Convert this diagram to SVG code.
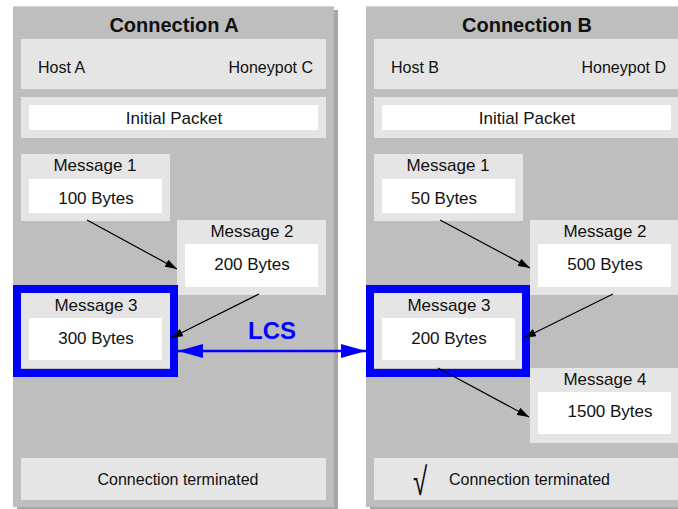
<svg xmlns="http://www.w3.org/2000/svg" width="678" height="509" viewBox="0 0 678 509">
<style>
text{font-family:"Liberation Sans",Arial,sans-serif;fill:#111;}
.panel{fill:#bebebe;}
.shadow{fill:#a6a6a6;}
.topline{fill:#d6d6d6;}
.light{fill:#e5e5e5;}
.white{fill:#ffffff;}
.title{font-size:20px;font-weight:bold;text-anchor:middle;}
.t16{font-size:16px;}
.t17{font-size:17px;text-anchor:middle;}
.mid{text-anchor:middle;}
.frame{fill:none;stroke:#0000ff;stroke-width:8;}
.conn{stroke:#000;stroke-width:1.2;fill:none;marker-end:url(#ah);}
</style>
<defs>
<marker id="ah" viewBox="0 0 12 8" refX="12" refY="4" markerWidth="12" markerHeight="8" markerUnits="userSpaceOnUse" orient="auto">
<path d="M0,0 L12,4 L0,8 Z" fill="#000"/>
</marker>
<marker id="bh" viewBox="0 0 25 14" refX="25" refY="7" markerWidth="25" markerHeight="14" markerUnits="userSpaceOnUse" orient="auto-start-reverse">
<path d="M0,0 L25,7 L0,14 Z" fill="#0000ff"/>
</marker>
</defs>
<rect width="678" height="509" fill="#ffffff"/>

<g id="panelA">
<rect class="shadow" x="17" y="10" width="321" height="501"/>
<rect class="panel" x="13" y="6" width="321" height="501"/>
<rect class="topline" x="13" y="6" width="321" height="1"/>
<text class="title" x="174" y="32">Connection A</text>
</g>
<g id="hostsA">
<rect class="light" x="21" y="39" width="305" height="50"/>
<text class="t16" x="38" y="73">Host A</text>
<text class="t16" x="313" y="73" text-anchor="end">Honeypot C</text>
</g>
<g id="initA">
<rect class="light" x="21" y="97" width="305" height="41"/>
<rect class="white" x="29" y="105" width="289" height="25"/>
<text class="t17" x="174" y="124">Initial Packet</text>
</g>
<g id="msgA1">
<rect class="light" x="21" y="154" width="149" height="67"/>
<rect class="white" x="29" y="179" width="133" height="34"/>
<text class="t17" x="95" y="171">Message 1</text>
<text class="t17" x="96" y="204">100 Bytes</text>
</g>
<g id="msgA2">
<rect class="light" x="177" y="220" width="149" height="75"/>
<rect class="white" x="185" y="244" width="133" height="43"/>
<text class="t17" x="252" y="237">Message 2</text>
<text class="t17" x="252" y="270">200 Bytes</text>
</g>
<g id="msgA3">
<rect class="light" x="21" y="293" width="149" height="75"/>
<rect class="white" x="29" y="318" width="133" height="42"/>
<text class="t17" x="96" y="311">Message 3</text>
<text class="t17" x="96" y="344">300 Bytes</text>
<rect class="frame" x="17" y="289" width="157" height="84"/>
</g>
<g id="endA">
<rect class="light" x="21" y="458" width="305" height="42"/>
<text class="t16 mid" x="178" y="485">Connection terminated</text>
</g>

<g id="panelB">
<rect class="shadow" x="370" y="10" width="321" height="501"/>
<rect class="panel" x="366" y="6" width="321" height="501"/>
<rect class="topline" x="366" y="6" width="321" height="1"/>
<text class="title" x="527" y="32">Connection B</text>
</g>
<g id="hostsB">
<rect class="light" x="374" y="39" width="305" height="50"/>
<text class="t16" x="391" y="73">Host B</text>
<text class="t16" x="666" y="73" text-anchor="end">Honeypot D</text>
</g>
<g id="initB">
<rect class="light" x="374" y="97" width="305" height="41"/>
<rect class="white" x="382" y="105" width="289" height="25"/>
<text class="t17" x="527" y="124">Initial Packet</text>
</g>
<g id="msgB1">
<rect class="light" x="374" y="154" width="149" height="67"/>
<rect class="white" x="382" y="179" width="133" height="34"/>
<text class="t17" x="448" y="171">Message 1</text>
<text class="t17" x="444" y="204">50 Bytes</text>
</g>
<g id="msgB2">
<rect class="light" x="530" y="220" width="149" height="75"/>
<rect class="white" x="538" y="244" width="133" height="43"/>
<text class="t17" x="605" y="237">Message 2</text>
<text class="t17" x="605" y="270">500 Bytes</text>
</g>
<g id="msgB3">
<rect class="light" x="374" y="293" width="149" height="75"/>
<rect class="white" x="382" y="318" width="133" height="42"/>
<text class="t17" x="449" y="311">Message 3</text>
<text class="t17" x="449" y="344">200 Bytes</text>
<rect class="frame" x="370" y="289" width="156" height="84"/>
</g>
<g id="msgB4">
<rect class="light" x="530" y="368" width="149" height="75"/>
<rect class="white" x="538" y="392" width="133" height="42"/>
<text class="t17" x="605" y="385">Message 4</text>
<text class="t17" x="610" y="417">1500 Bytes</text>
</g>
<g id="endB">
<rect class="light" x="374" y="458" width="305" height="42"/>
<text transform="translate(413,495) scale(1,1.5)" style="font-family:'DejaVu Sans',sans-serif;font-size:26px;font-weight:300;">√</text>
<text class="t16" x="449" y="485">Connection terminated</text>
</g>

<g id="connectors">
<line class="conn" x1="87" y1="220" x2="177" y2="269"/>
<line class="conn" x1="259" y1="294" x2="171" y2="338"/>
<line class="conn" x1="440" y1="220" x2="530" y2="268"/>
<line class="conn" x1="613" y1="294" x2="524" y2="338"/>
<line class="conn" x1="438" y1="368" x2="529" y2="417"/>
<line x1="178" y1="351" x2="366" y2="351" stroke="#0000ff" stroke-width="2.5" marker-start="url(#bh)" marker-end="url(#bh)"/>
<text x="272" y="339" text-anchor="middle" style="font-size:24px;font-weight:bold;fill:#0000ff;">LCS</text>
</g>
</svg>
